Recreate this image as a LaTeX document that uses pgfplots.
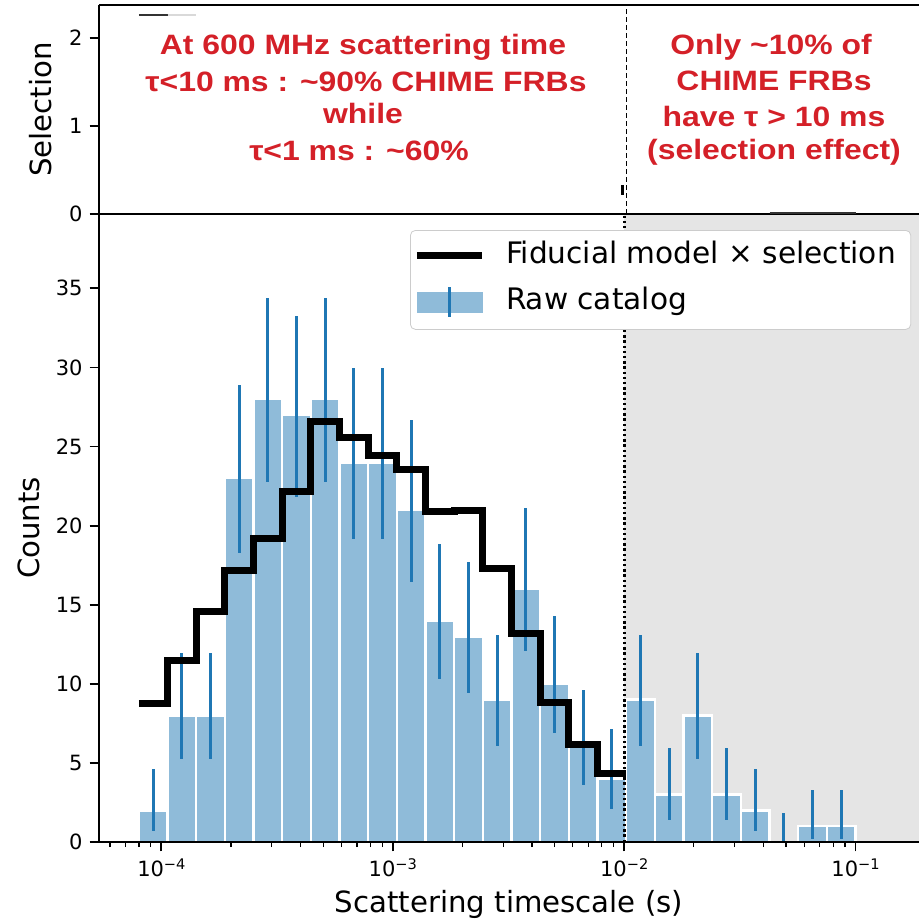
\documentclass[border=0pt]{standalone}
\usepackage{pgfplots}
\pgfplotsset{compat=1.18}
\usepackage{fontspec}
\setmainfont{DejaVu Sans}
\newfontfamily\annfont[FakeStretch=1.14]{Liberation Sans}
\definecolor{c0}{HTML}{1F77B4}
\definecolor{barfill}{HTML}{8FBBD9}
\definecolor{annred}{RGB}{212,32,40}
\definecolor{shade}{HTML}{E5E5E5}

% bin edges (log-spaced, 25 bins from 8e-5 to 0.1) and counts
\pgfplotstableread{
x y
8.0000e-5 2
1.0641e-4 8
1.4153e-4 8
1.8825e-4 23
2.5038e-4 28
3.3302e-4 27
4.4296e-4 28
5.8916e-4 24
7.8362e-4 24
1.0423e-3 21
1.3863e-3 14
1.8439e-3 13
2.4525e-3 9
3.2620e-3 16
4.3389e-3 10
5.7709e-3 6
7.6757e-3 4
1.0209e-2 9
1.3579e-2 3
1.8061e-2 8
2.4023e-2 3
3.1951e-2 2
4.2497e-2 0
5.6526e-2 1
7.5184e-2 1
1.0000e-1 1
}\histtab

% bin centres with Poisson (Gehrels) error bars
\pgfplotstableread{
x y ep em
9.2252e-5 2 2.638 1.292
1.2271e-4 8 3.944 2.764
1.6321e-4 8 3.944 2.764
2.1708e-4 23 5.873 4.757
2.8873e-4 28 6.362 5.260
3.8402e-4 27 6.268 5.160
5.1079e-4 28 6.362 5.260
6.7939e-4 24 5.975 4.860
9.0364e-4 24 5.975 4.860
1.2019e-3 21 5.664 4.539
1.5986e-3 14 4.832 3.695
2.1263e-3 13 4.703 3.559
2.8281e-3 9 4.110 2.945
3.7616e-3 16 5.085 3.954
5.0033e-3 10 4.266 3.109
6.6546e-3 6 3.584 2.380
8.8511e-3 4 3.163 1.914
1.1773e-2 9 4.110 2.945
1.5659e-2 3 2.918 1.633
2.0827e-2 8 3.944 2.764
2.7702e-2 3 2.918 1.633
3.6845e-2 2 2.638 1.292
4.9007e-2 0 1.841 0.000
6.5183e-2 1 2.300 0.827
8.6698e-2 1 2.300 0.827
}\errtab

% fiducial model x selection (step values at left bin edges)
\pgfplotstableread{
x y
8.0000e-5 8.78
1.0641e-4 11.48
1.4153e-4 14.58
1.8825e-4 17.18
2.5038e-4 19.18
3.3302e-4 22.18
4.4296e-4 26.56
5.8916e-4 25.55
7.8362e-4 24.46
1.0423e-3 23.55
1.3863e-3 20.91
1.8439e-3 20.95
2.4525e-3 17.28
3.2620e-3 13.15
4.3389e-3 8.84
5.7709e-3 6.16
7.6757e-3 4.31
1.0209e-2 4.31
}\modeltab

\begin{document}
\begin{tikzpicture}
% ---------- lower panel: counts ----------
\begin{axis}[
  scale only axis, width=410pt, height=314pt,
  at={(0,0)}, anchor=south west,
  xmode=log, xmin=5.375e-5, xmax=0.188, ymin=0, ymax=39.7,
  tick align=outside,
  major tick length=4.7pt, minor tick length=2.6pt,
  every tick/.append style={black, line width=0.9pt},
  every minor tick/.append style={line width=0.6pt},
  axis line style={line width=0.9pt},
  tick label style={font=\fontsize{10.5}{12}\selectfont},
  label style={font=\fontsize{14.6}{17}\selectfont},
  yticklabel style={/pgf/number format/assume math mode=true},
  axis x line*=bottom, axis y line*=left, axis on top,
  xtick={1e-4,1e-3,1e-2,1e-1},
  xticklabels={
    10\raisebox{3.5pt}{\fontsize{7.3}{8}\selectfont −4},
    10\raisebox{3.5pt}{\fontsize{7.3}{8}\selectfont −3},
    10\raisebox{3.5pt}{\fontsize{7.3}{8}\selectfont −2},
    10\raisebox{3.5pt}{\fontsize{7.3}{8}\selectfont −1}},
  minor xtick={6e-5,7e-5,8e-5,9e-5,2e-4,3e-4,4e-4,5e-4,6e-4,7e-4,8e-4,9e-4,
    2e-3,3e-3,4e-3,5e-3,6e-3,7e-3,8e-3,9e-3,2e-2,3e-2,4e-2,5e-2,6e-2,7e-2,8e-2,9e-2},
  ytick={0,5,...,35},
  xlabel={Scattering timescale (s)}, ylabel={Counts},
  xlabel style={at={(axis description cs:0.5,-0.113)}, anchor=base},
  ylabel style={at={(axis description cs:-0.0854,0.5)}, anchor=center},
  legend style={at={(0.3793,0.9745)}, anchor=north west,
    draw=black!20, rounded corners=2.5pt, fill=white,
    font=\fontsize{14.8}{17}\selectfont,
    inner xsep=1.5pt, inner ysep=5.5pt, row sep=7.5pt,
    nodes={inner sep=0pt, text height=11pt, text depth=3.5pt},
    /tikz/every odd column/.append style={column sep=10.3pt}},
  legend cell align=left,
]
\addplot[fill=shade, draw=none, forget plot] coordinates {(0.01,0) (0.01,39.7) (0.3,39.7) (0.3,0)} -- cycle;
\addplot[ybar interval, fill=barfill, draw=white, line width=1.2pt, forget plot] table[x=x,y=y] {\histtab};
\addplot[draw=none, mark=none, forget plot,
  error bars/.cd, y dir=both, y explicit, error mark=none,
  error bar style={draw=c0, solid, line width=1.5pt}]
  table[x=x, y=y, y error plus=ep, y error minus=em] {\errtab};
\addplot[black, line width=1.4pt, dash pattern=on 1.2pt off 1.4pt, forget plot] coordinates {(0.01,0) (0.01,39.7)};
\addplot[black, line width=3.5pt, const plot, forget plot] table[x=x,y=y] {\modeltab};
\addlegendimage{legend image code/.code={\draw[black, line width=3.5pt, sharp corners] (0pt,0pt) -- (32.5pt,0pt);}}
\addlegendentry{Fiducial model × selection\rule{6pt}{0pt}}
\addlegendimage{legend image code/.code={\fill[barfill, sharp corners] (0pt,-5pt) rectangle (32.5pt,5pt); \draw[c0, line width=1.5pt, sharp corners] (16.25pt,-7.5pt) -- (16.25pt,7.5pt);}}
\addlegendentry{Raw catalog}
\end{axis}
% ---------- upper panel: selection ----------
\begin{axis}[
  scale only axis, width=410pt, height=104.5pt,
  at={(0,314pt)}, anchor=south west,
  xmode=log, xmin=5.375e-5, xmax=0.188, ymin=0, ymax=2.375,
  tick align=outside,
  major tick length=4.7pt,
  every tick/.append style={black, line width=0.9pt},
  axis line style={line width=0.9pt},
  tick label style={font=\fontsize{10.5}{12}\selectfont},
  label style={font=\fontsize{14.6}{17}\selectfont},
  yticklabel style={/pgf/number format/assume math mode=true},
  axis x line*=box, axis y line*=left,
  xtick=\empty, ytick={0,1,2},
  ylabel={Selection},
  ylabel style={at={(axis description cs:-0.0707,0.5)}, anchor=center},
]
\addplot[black, line width=0.5pt, dash pattern=on 2.5pt off 1.5pt] coordinates {(0.0102,0) (0.0102,2.375)};
\addplot[black!80, line width=1pt] coordinates {(8e-5,2.26) (1.0641e-4,2.26)};
\addplot[black!15, line width=1pt] coordinates {(1.0641e-4,2.26) (1.4153e-4,2.26)};
\addplot[black, line width=1.5pt] coordinates {(0.00985,0.33) (0.00985,0.22)};
\addplot[black!80, line width=1.5pt] coordinates {(4.2497e-2,0) (0.1,0)};
\end{axis}
% ---------- annotations ----------
\begin{scope}[x=0.5pt, y=-0.5pt, shift={(-49.5pt,421pt)}]
\tikzset{ann/.style={anchor=base, inner sep=0pt, text=annred, font=\annfont\bfseries\fontsize{14}{16}\selectfont}}
\node[ann] at (363,55) {At 600 MHz scattering time};
\node[ann] at (366,91.7) {τ<10 ms : \textasciitilde90\% CHIME FRBs};
\node[ann] at (363,123.3) {while};
\node[ann] at (359,161) {τ<1 ms : \textasciitilde60\%};
\node[ann] at (771,55) {Only \textasciitilde10\% of};
\node[ann] at (774,90.7) {CHIME FRBs};
\node[ann] at (774,126.7) {have τ > 10 ms};
\node[ann] at (774,160) {(selection effect)};
\pgfresetboundingbox
\path[use as bounding box] (0,0) rectangle (919,920);
\end{scope}
\end{tikzpicture}
\end{document}
